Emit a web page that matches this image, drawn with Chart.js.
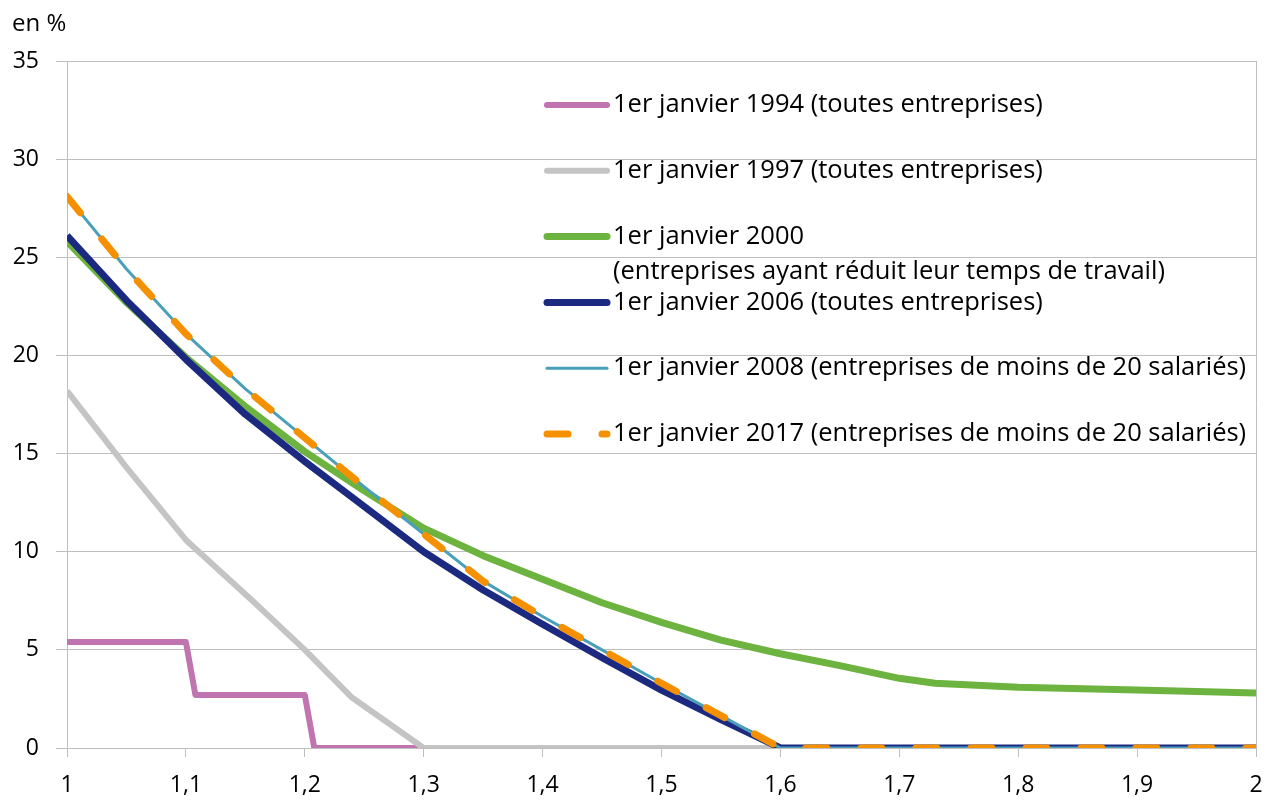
<!DOCTYPE html>
<html>
<head>
<meta charset="utf-8">
<script src="https://cdn.jsdelivr.net/npm/chart.js@4.4.1/dist/chart.umd.min.js"></script>
<style>
  body { margin: 0; background: #fff; }
  canvas { display: block; }
</style>
</head>
<body>
<canvas id="exoChart" width="1266" height="800"></canvas>
<script>
// values (x = ratio salaire / SMIC, y = taux en %)
const x1994 = [1, 1.1, 1.108, 1.2, 1.208, 1.3];
const y1994 = [5.4, 5.4, 2.7, 2.7, 0, 0];

const x1997 = [1, 1.05, 1.1, 1.156, 1.2, 1.239, 1.3, 2];
const y1997 = [18.2, 14.3, 10.6, 7.5, 5.0, 2.6, 0, 0];

const x2000 = [1, 1.05, 1.1, 1.15, 1.2, 1.25, 1.3, 1.35, 1.4, 1.45, 1.5, 1.55, 1.6, 1.65, 1.7, 1.73, 1.8, 1.9, 2];
const y2000 = [25.8, 22.7, 19.9, 17.4, 15.1, 13.1, 11.2, 9.8, 8.6, 7.4, 6.4, 5.5, 4.8, 4.2, 3.55, 3.3, 3.1, 2.95, 2.8];

const x2006 = [1, 1.05, 1.1, 1.15, 1.2, 1.25, 1.3, 1.35, 1.4, 1.45, 1.5, 1.55, 1.6, 2];
const y2006 = [26.1, 22.8, 19.8, 17.0, 14.6, 12.3, 10.0, 8.05, 6.3, 4.6, 2.95, 1.45, 0, 0];

// 2008 and 2017 curves are the same barème
const xSmall = [1, 1.05, 1.1, 1.15, 1.2, 1.25, 1.3, 1.35, 1.4, 1.45, 1.5, 1.55, 1.6, 2];
const ySmall = [28.1, 24.4, 21.1, 18.3, 15.8, 13.3, 10.9, 8.5, 6.7, 5.0, 3.3, 1.65, 0, 0];

const seriesLabels = [
  '1er janvier 1994 (toutes entreprises)',
  '1er janvier 1997 (toutes entreprises)',
  '1er janvier 2000\n(entreprises ayant réduit leur temps de travail)',
  '1er janvier 2006 (toutes entreprises)',
  '1er janvier 2008 (entreprises de moins de 20 salariés)',
  '1er janvier 2017 (entreprises de moins de 20 salariés)'
];
const xTickLabels = ['1', '1,1', '1,2', '1,3', '1,4', '1,5', '1,6', '1,7', '1,8', '1,9', '2'];
const yTickLabels = ['0', '5', '10', '15', '20', '25', '30', '35'];

const FONT = '"Open Sans", Lato, sans-serif';
const gridGrey = '#BFBFBF';

function pts(xs, ys) {
  return xs.map((x, i) => ({ x: x, y: ys[i] }));
}

// legend drawn inside the plot, like the original
const sideLegend = {
  id: 'sideLegend',
  afterDatasetsDraw(chart) {
    const c = chart.ctx;
    const area = chart.chartArea;
    c.save();
    c.font = '25.5px ' + FONT;
    c.textBaseline = 'middle';
    c.fillStyle = '#000';
    chart.data.datasets.forEach((ds, i) => {
      const y = area.top + 44 + i * 65.8;
      const x0 = area.left + 480;
      c.beginPath();
      c.strokeStyle = ds.borderColor;
      c.lineWidth = ds.borderWidth;
      c.lineCap = 'round';
      c.setLineDash(ds.borderDash || []);
      c.moveTo(x0, y);
      c.lineTo(x0 + 60, y);
      c.stroke();
      c.setLineDash([]);
      ds.label.split('\n').forEach((line, j) => {
        c.fillText(line, x0 + 66, y + j * 35);
      });
    });
    // unit label
    c.font = '24px ' + FONT;
    c.textBaseline = 'alphabetic';
    c.fillText('en %', 12, 31);
    c.restore();
  }
};

const ctx = document.getElementById('exoChart').getContext('2d');

const exoChart = new Chart(ctx, {
  type: 'line',
  data: {
    datasets: [
      { label: seriesLabels[0], data: pts(x1994, y1994), borderColor: '#C074B0', borderWidth: 6, order: 6 },
      { label: seriesLabels[1], data: pts(x1997, y1997), borderColor: '#C4C4C4', borderWidth: 6, order: 5 },
      { label: seriesLabels[2], data: pts(x2000, y2000), borderColor: '#6DB33F', borderWidth: 7, order: 4 },
      { label: seriesLabels[3], data: pts(x2006, y2006), borderColor: '#1B2A80', borderWidth: 7, order: 3 },
      { label: seriesLabels[4], data: pts(xSmall, ySmall), borderColor: '#4A9FBB', borderWidth: 3, order: 2 },
      { label: seriesLabels[5], data: pts(xSmall, ySmall), borderColor: '#F59100', borderWidth: 7, borderDash: [21, 34], borderCapStyle: 'round', order: 1 }
    ]
  },
  options: {
    responsive: false,
    animation: false,
    layout: { padding: { top: 61, right: 10 } },
    elements: {
      point: { radius: 0 },
      line: { tension: 0, fill: false, borderJoinStyle: 'round' }
    },
    plugins: {
      legend: { display: false },
      tooltip: { enabled: false }
    },
    scales: {
      x: {
        type: 'linear',
        min: 1,
        max: 2,
        afterFit: (scale) => {
          scale.height = 52;
          scale.paddingLeft = 0;
          scale.paddingRight = 0;
        },
        ticks: {
          stepSize: 0.1,
          padding: 15,
          color: '#000',
          font: { family: FONT, size: 23 },
          maxRotation: 0,
          callback: (value, index) => xTickLabels[index]
        },
        grid: {
          color: (g) => (g.index === xTickLabels.length - 1 ? gridGrey : 'rgba(0,0,0,0)'),
          tickColor: gridGrey,
          tickLength: 9
        },
        border: { color: gridGrey }
      },
      y: {
        min: 0,
        max: 35,
        afterFit: (scale) => { scale.width = 67; },
        ticks: {
          stepSize: 5,
          padding: 17,
          color: '#000',
          font: { family: FONT, size: 23 },
          callback: (value, index) => yTickLabels[index]
        },
        grid: { color: gridGrey, tickColor: gridGrey, tickLength: 11 },
        border: { color: gridGrey }
      }
    }
  },
  plugins: [sideLegend]
});
</script>
</body>
</html>
